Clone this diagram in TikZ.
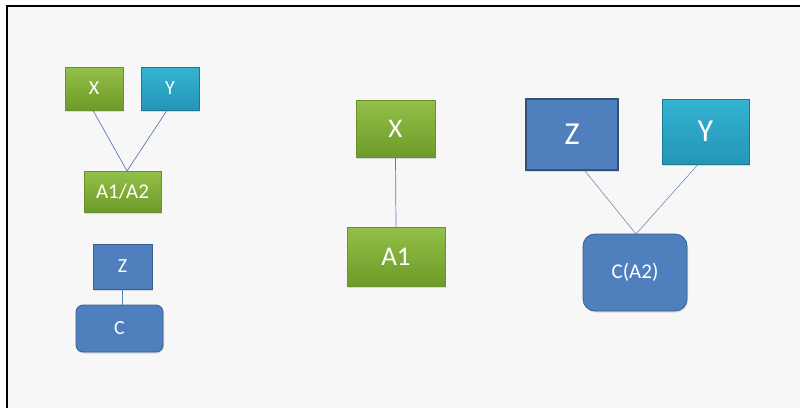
\documentclass[tikz,border=0pt]{standalone}
\usepackage{fontspec}
\setmainfont{Carlito}
\usetikzlibrary{shadows}
\definecolor{bgc}{HTML}{F7F7F7}
\definecolor{grT}{HTML}{93C047}
\definecolor{grB}{HTML}{6E9A2A}
\definecolor{grD}{HTML}{6A9030}
\definecolor{tlT}{HTML}{34B3D3}
\definecolor{tlB}{HTML}{2496B6}
\definecolor{blF}{HTML}{4F7FBC}
\definecolor{blD}{HTML}{3A5F8E}
\definecolor{lnc}{HTML}{5A7DB0}
\newcommand{\fs}[1]{\fontsize{#1}{#1}\selectfont\color{white}}
\begin{document}
\begin{tikzpicture}[x=1pt,y=-1pt,
  box/.style={draw, line width=0.8pt, inner sep=0pt, drop shadow={shadow xshift=1pt, shadow yshift=-1.5pt, opacity=0.25}},
  gbox/.style={box, draw=grD, top color=grT, bottom color=grB},
  tbox/.style={box, draw=tlB!80!black, top color=tlT, bottom color=tlB},
  bbox/.style={box, draw=blD, fill=blF},
  rbox/.style={bbox, rounded corners=7pt},
  conn/.style={draw=lnc, line width=0.7pt}]
\useasboundingbox (0,0) rectangle (800,408);
\fill[white] (0,0) rectangle (800,408);
\fill[bgc] (7,6) rectangle (800,408);
\draw[line width=2pt] (7,408) -- (7,6) -- (800,6);
% left group
\node[gbox, minimum width=58pt, minimum height=43pt, font=\fs{20}] (x1) at (94,88.5) {X};
\node[tbox, minimum width=58pt, minimum height=43pt, font=\fs{20}] (y1) at (170,88.5) {Y};
\node[gbox, minimum width=77pt, minimum height=41pt, font=\fs{21}] (a12) at (122.5,191.5) {A1/A2};
\coordinate (j1) at (127,171);
\draw[conn] (x1.south) ++(-1,0) -- (j1);
\draw[conn] (y1.south) ++(-3,0) -- (j1);
\node[bbox, minimum width=59pt, minimum height=45pt, font=\fs{20}] (z1) at (122.5,266.5) {Z};
\node[rbox, minimum width=87pt, minimum height=47pt, font=\fs{20}] (c1) at (119.5,328.5) {C};
\draw[conn] (z1.south) -- (z1.south |- c1.north);
% middle group
\node[gbox, minimum width=79pt, minimum height=57pt, font=\fs{27}] (x2) at (395.5,128.5) {X};
\node[gbox, minimum width=98pt, minimum height=59pt, font=\fs{27}] (a1) at (396,256.5) {A1};
\draw[conn] (x2.south) -- (a1.north);
% right group
\node[bbox, draw=blD!85!black, line width=2pt, minimum width=92pt, minimum height=71pt, font=\fs{32}] (z2) at (572,134.5) {Z};
\node[tbox, minimum width=87pt, minimum height=65pt, font=\fs{32}] (y2) at (705.5,131.5) {Y};
\node[rbox, rounded corners=12pt, minimum width=104pt, minimum height=77pt, font=\fs{21}] (ca2) at (635,272.5) {C(A2)};
\coordinate (j2) at (636,234);
\draw[conn, line width=0.5pt] (z2.south) ++(13,0) -- (j2);
\draw[conn, line width=0.5pt] (y2.south) ++(-7.5,0) -- (j2);
\end{tikzpicture}
\end{document}
